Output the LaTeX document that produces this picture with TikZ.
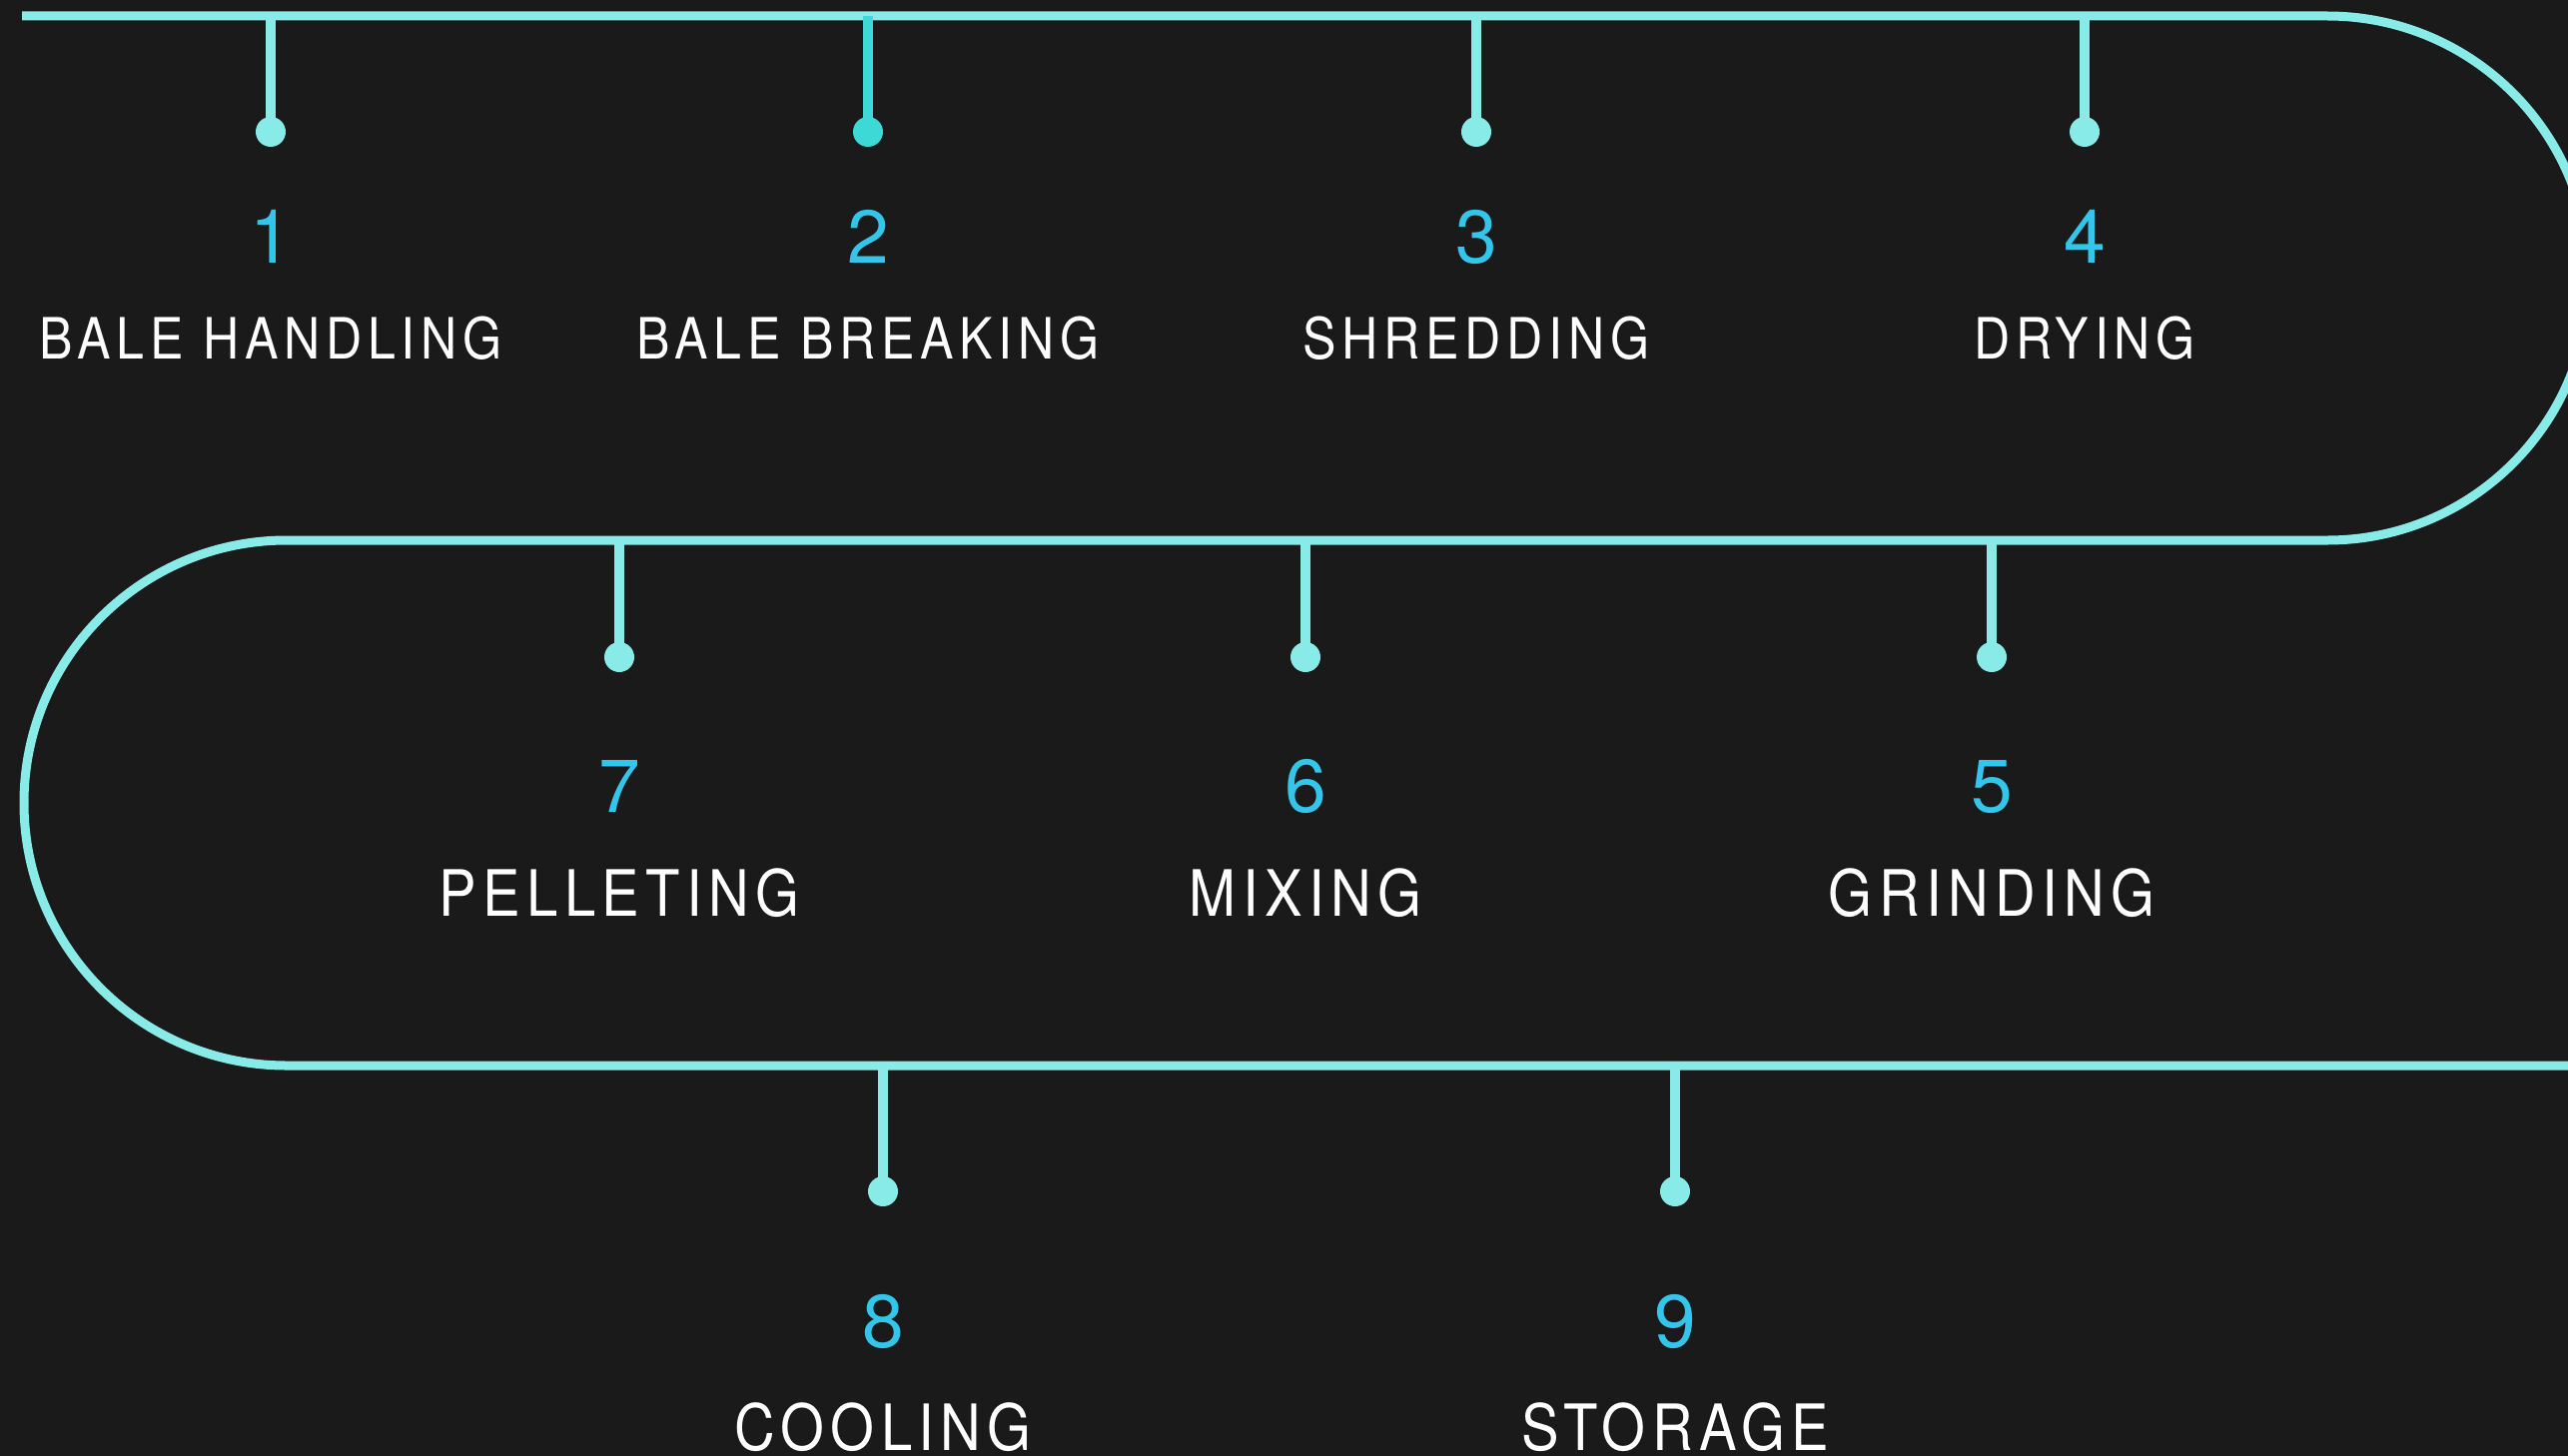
\documentclass[tikz,border=0pt]{standalone}
\usepackage{fontspec}
\setmainfont{TeX Gyre Heros}
\newfontfamily\labelfont[FakeStretch=0.88,LetterSpace=10]{TeX Gyre Heros}
\newfontfamily\numfont{TeX Gyre Heros}
\definecolor{bgc}{RGB}{26,26,26}
\definecolor{trackc}{RGB}{136,235,231}
\definecolor{tealc}{RGB}{61,217,214}
\definecolor{numc}{RGB}{52,197,235}
\tikzset{
  trackline/.style={draw=trackc, line width=9pt},
  stemline/.style={draw=trackc, line width=10pt},
  dotnode/.style={circle, fill=trackc, minimum size=30pt, inner sep=0pt, draw=none},
  numtext/.style={text=numc, anchor=base, inner sep=0pt, font=\numfont\fontsize{75}{80}\selectfont},
  labA/.style={text=white, anchor=base, inner sep=0pt, font=\labelfont\fontsize{57}{60}\selectfont},
  labB/.style={text=white, anchor=base, inner sep=0pt, font=\labelfont\fontsize{64}{68}\selectfont},
}
\begin{document}
\begin{tikzpicture}[x=1pt,y=1pt]
\useasboundingbox (0,0) rectangle (2571,-1458);
\fill[bgc] (0,0) rectangle (2571,-1458);
\begin{scope}
\clip (0,0) rectangle (2571,-1458);
% serpentine track
\coordinate (t0) at (22,-16);
\coordinate (t1) at (2330,-16);
\coordinate (m1) at (287,-541);
\coordinate (tend) at (2640,-1067);
\draw[trackline] (t0) -- (t1) arc[start angle=90, end angle=-90, radius=262.5]
  -- (m1) arc[start angle=90, end angle=270, radius=263] -- (tend);

% row 1
\coordinate (s1) at (271,-16);
\coordinate (s2) at (869,-16);
\coordinate (s3) at (1478,-16);
\coordinate (s4) at (2087,-16);
\node[dotnode] (d1) at (271,-132) {};
\node[dotnode, fill=tealc] (d2) at (869,-132) {};
\node[dotnode] (d3) at (1478,-132) {};
\node[dotnode] (d4) at (2087,-132) {};
\draw[stemline] (s1) -- (d1.center);
\draw[stemline, draw=tealc] (s2) -- (d2.center);
\draw[stemline] (s3) -- (d3.center);
\draw[stemline] (s4) -- (d4.center);
\node[numtext] (n1) at (271,-263) {1};
\node[numtext] (n2) at (869,-263) {2};
\node[numtext] (n3) at (1478,-263) {3};
\node[numtext] (n4) at (2087,-263) {4};
\node[labA] (l1) at (271,-359) {BALE HANDLING};
\node[labA] (l2) at (869,-359) {BALE BREAKING};
\node[labA] (l3) at (1478,-359) {SHREDDING};
\node[labA] (l4) at (2087,-359) {DRYING};

% row 2
\coordinate (s7) at (620,-541);
\coordinate (s6) at (1307,-541);
\coordinate (s5) at (1994,-541);
\node[dotnode] (d7) at (620,-658) {};
\node[dotnode] (d6) at (1307,-658) {};
\node[dotnode] (d5) at (1994,-658) {};
\draw[stemline] (s7) -- (d7.center);
\draw[stemline] (s6) -- (d6.center);
\draw[stemline] (s5) -- (d5.center);
\node[numtext] (n7) at (620,-813) {7};
\node[numtext] (n6) at (1307,-813) {6};
\node[numtext] (n5) at (1994,-813) {5};
\node[labB] (l7) at (620,-917) {PELLETING};
\node[labB] (l6) at (1307,-917) {MIXING};
\node[labB] (l5) at (1994,-917) {GRINDING};

% row 3
\coordinate (s8) at (884,-1067);
\coordinate (s9) at (1677,-1067);
\node[dotnode] (d8) at (884,-1193) {};
\node[dotnode] (d9) at (1677,-1193) {};
\draw[stemline] (s8) -- (d8.center);
\draw[stemline] (s9) -- (d9.center);
\node[numtext] (n8) at (884,-1349) {8};
\node[numtext] (n9) at (1677,-1349) {9};
\node[labB] (l8) at (884,-1452) {COOLING};
\node[labB] (l9) at (1677,-1452) {STORAGE};
\end{scope}
\end{tikzpicture}
\end{document}
